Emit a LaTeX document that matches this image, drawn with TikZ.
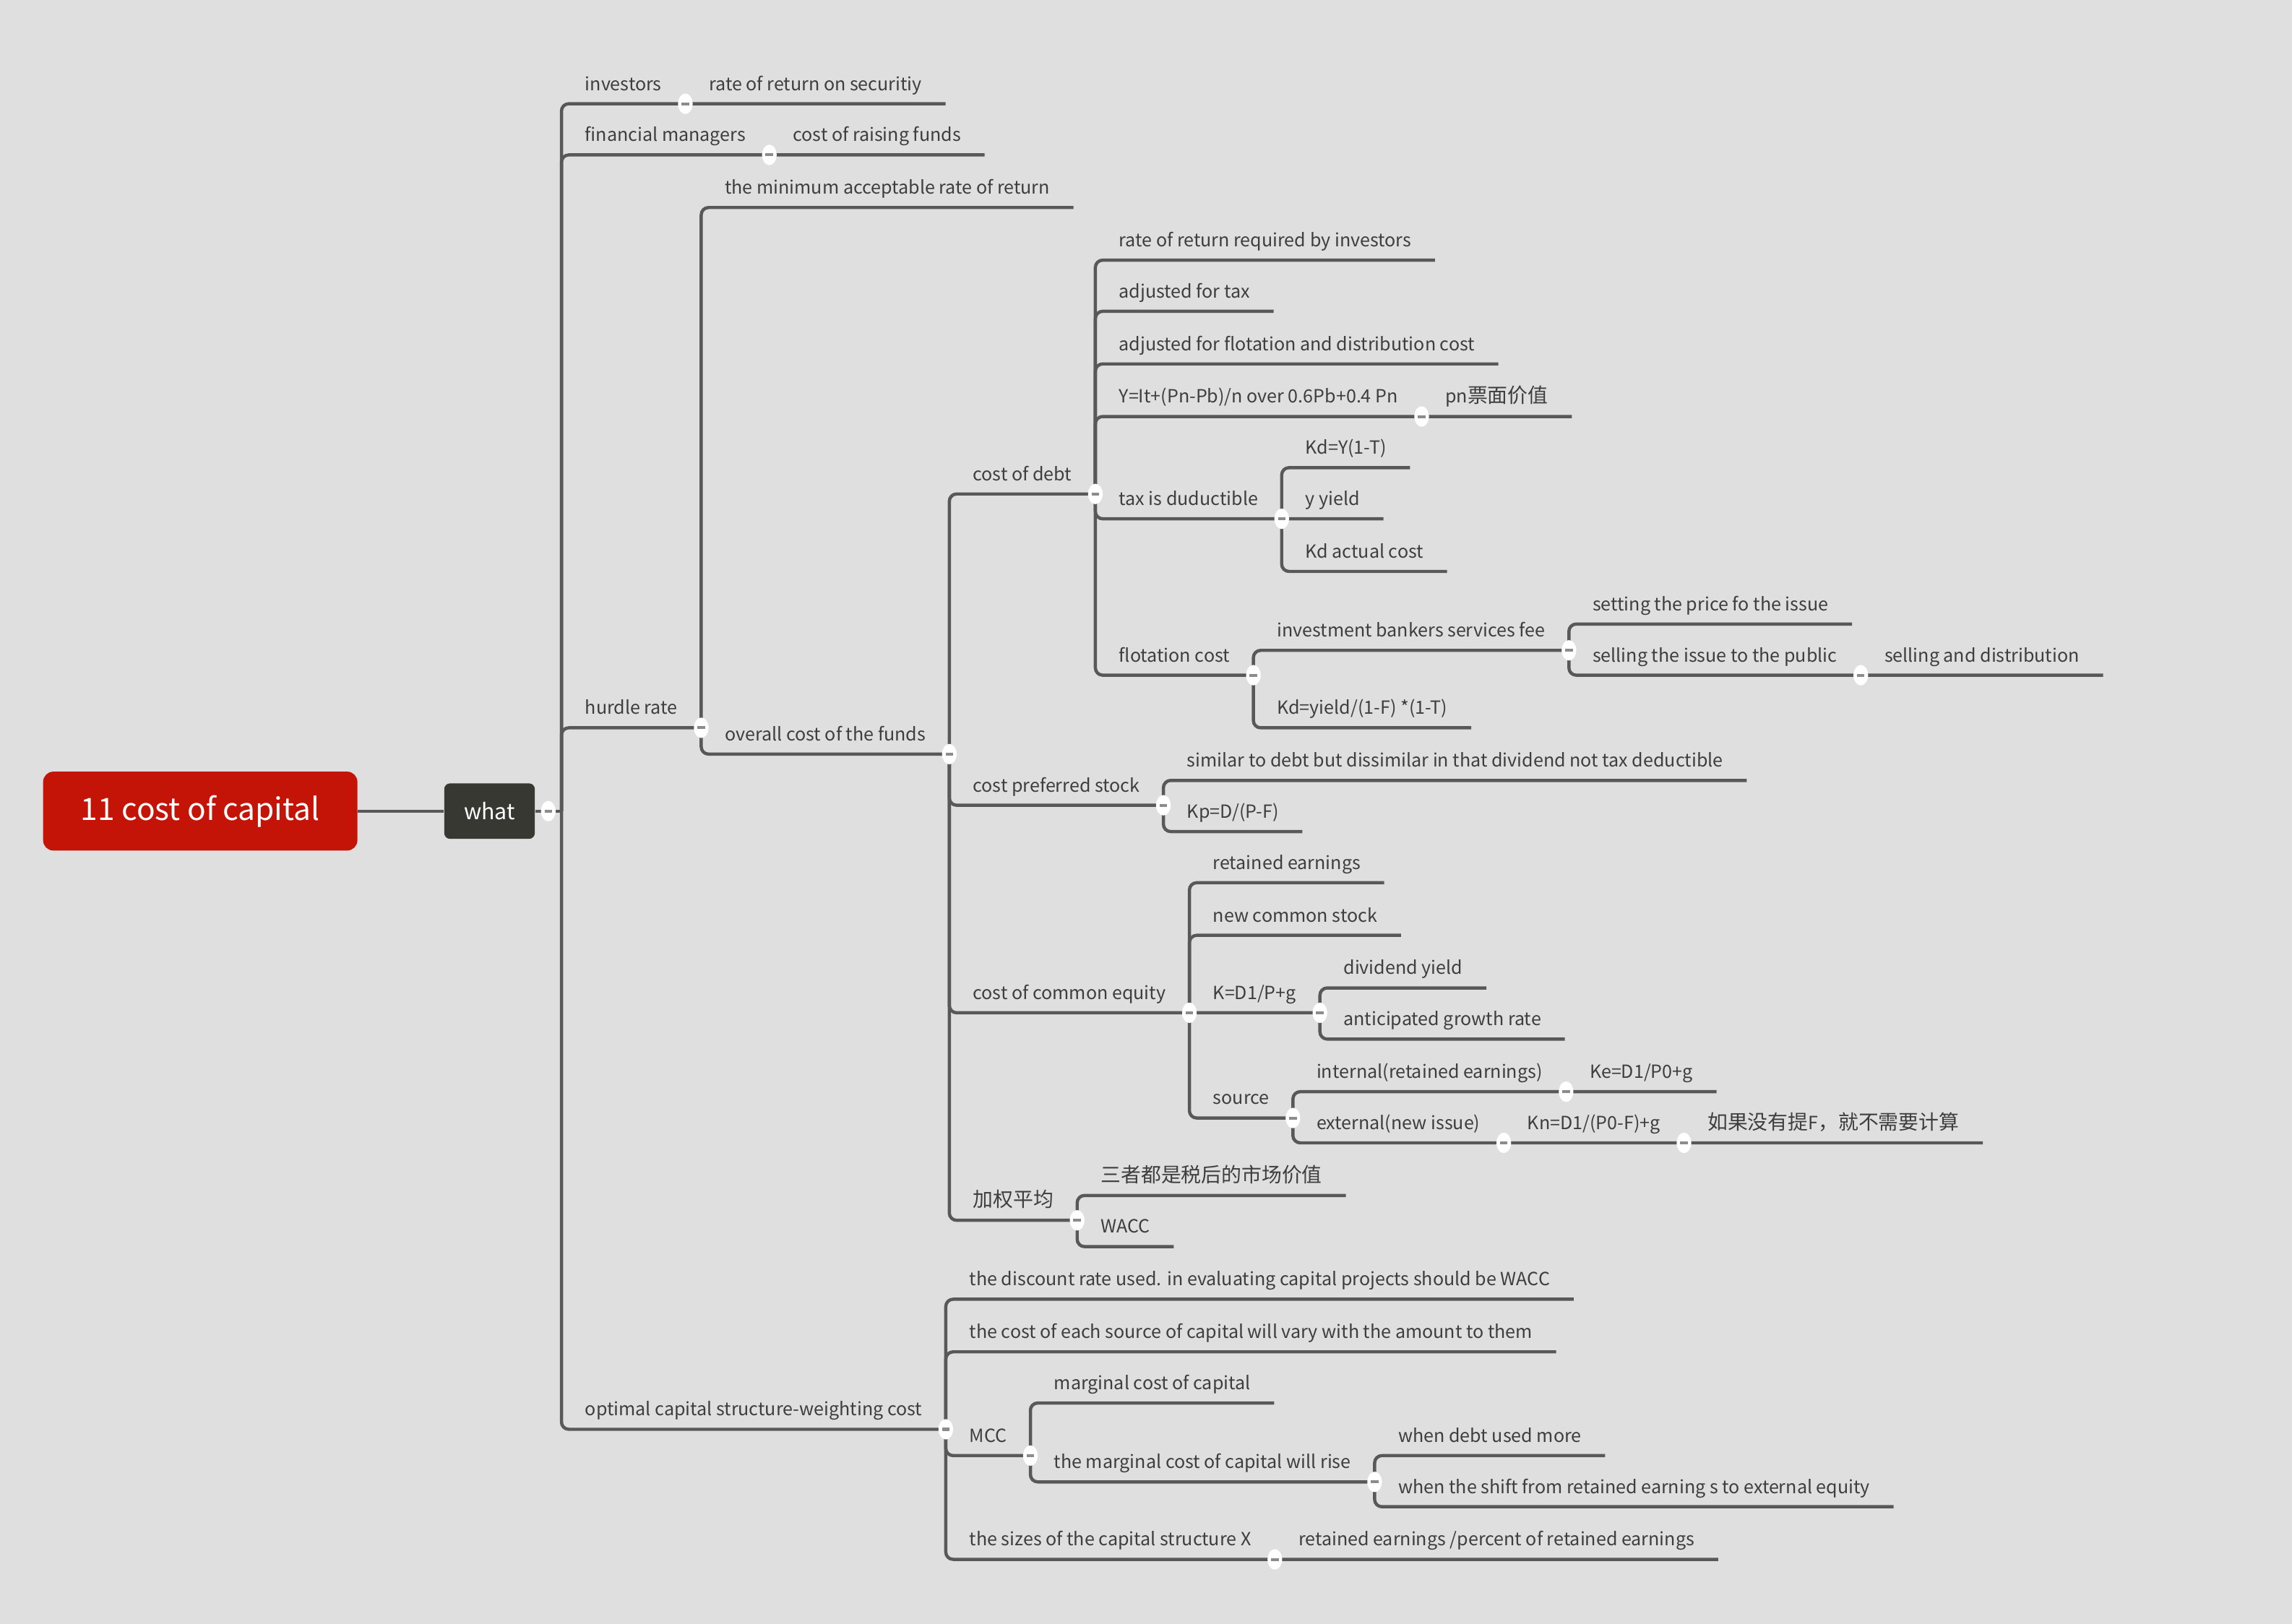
\documentclass[tikz,border=0pt]{standalone}
\usepackage{fontspec}
\setmainfont{Noto Sans CJK SC}
\newfontfamily\cjk{Noto Sans CJK SC}[Scale=1.11]
\usetikzlibrary{positioning,shapes.geometric}

\definecolor{bggray}{RGB}{223,223,223}
\definecolor{linegray}{RGB}{88,88,88}
\definecolor{textgray}{RGB}{62,62,62}
\definecolor{foldgray}{RGB}{140,140,140}
\definecolor{rootred}{RGB}{196,20,8}
\definecolor{hubdark}{RGB}{56,56,50}

\begin{document}
\begin{tikzpicture}[x=1pt, y=-1pt,
    branch/.style={draw=linegray, line width=2.2pt, rounded corners=5pt},
    topic/.style={anchor=south west, inner xsep=16pt, inner ysep=9pt, text depth=0pt,
        text=textgray, font=\fontsize{12.4}{15}\selectfont},
    rootbox/.style={fill=rootred, rounded corners=7pt, text=white, minimum width=215pt,
        minimum height=54pt, font=\fontsize{21}{24}\selectfont},
    hubbox/.style={fill=hubdark, rounded corners=4pt, text=white, minimum width=62pt,
        minimum height=38pt, font=\fontsize{15}{18}\selectfont},
    fold/.style={ellipse, fill=white, inner sep=0pt, minimum width=10pt, minimum height=14pt,
        path picture={\draw[foldgray, line width=2pt]
            ([xshift=-2.6pt]path picture bounding box.center) --
            ([xshift=2.6pt]path picture bounding box.center);}}]

    % Background
    \fill[bggray] (0,0) rectangle (1568,1111);

    % Central topic
    \node[rootbox] (root) at (137,555) {11 cost of capital};
    \node[hubbox, right=59pt of root] (what) {what};
    \coordinate (wj) at ([xshift=18pt]what.east);

    % what
    \node[topic] (inv) at (wj |- 0,71) {investors};
    \node[topic] (fin) at (wj |- 0,106) {financial managers};
    \node[topic] (hur) at (wj |- 0,498) {hurdle rate};
    \node[topic] (opt) at (wj |- 0,978) {optimal capital structure-weighting cost};

    \node[topic] (rors) at (inv.south east) {rate of return on securitiy};
    \node[topic] (crf) at (fin.south east) {cost of raising funds};

    % hurdle rate
    \node[topic] (minr) at (hur.south east |- 0,142) {the minimum acceptable rate of return};
    \node[topic] (ocf) at (hur.south east |- 0,516) {overall cost of the funds};

    \node[topic] (cod) at (ocf.south east |- 0,338) {cost of debt};
    \node[topic] (cps) at (ocf.south east |- 0,551) {cost preferred stock};
    \node[topic] (cce) at (ocf.south east |- 0,693) {cost of common equity};
    \node[topic] (jq) at (ocf.south east |- 0,835) {\cjk 加权平均};

    % cost of debt
    \node[topic] (rri) at (cod.south east |- 0,178) {rate of return required by investors};
    \node[topic] (aft) at (cod.south east |- 0,213) {adjusted for tax};
    \node[topic] (afd) at (cod.south east |- 0,249) {adjusted for flotation and distribution cost};
    \node[topic] (yit) at (cod.south east |- 0,285) {Y=It+(Pn-Pb)/n over 0.6Pb+0.4 Pn};
    \node[topic] (tid) at (cod.south east |- 0,355) {tax is duductible};
    \node[topic] (flc) at (cod.south east |- 0,462) {flotation cost};

    \node[topic] (pnv) at (yit.south east) {pn{\cjk 票面价值}};

    \node[topic] (kdy) at (tid.south east |- 0,320) {Kd=Y(1-T)};
    \node[topic] (yy) at (tid.south east |- 0,355) {y yield};
    \node[topic] (kda) at (tid.south east |- 0,391) {Kd actual cost};

    \node[topic] (ibs) at (flc.south east |- 0,445) {investment bankers services fee};
    \node[topic] (kdf) at (flc.south east |- 0,498) {Kd=yield/(1-F) *(1-T)};

    \node[topic] (spi) at (ibs.south east |- 0,427) {setting the price fo the issue};
    \node[topic] (sip) at (ibs.south east |- 0,462) {selling the issue to the public};
    \node[topic] (sad) at (sip.south east) {selling and distribution};

    % cost preferred stock
    \node[topic] (sim) at (cps.south east |- 0,534) {similar to debt but dissimilar in that dividend not tax deductible};
    \node[topic] (kp) at (cps.south east |- 0,569) {Kp=D/(P-F)};

    % cost of common equity
    \node[topic] (ret) at (cce.south east |- 0,604) {retained earnings};
    \node[topic] (ncs) at (cce.south east |- 0,640) {new common stock};
    \node[topic] (kdp) at (cce.south east |- 0,693) {K=D1/P+g};
    \node[topic] (src) at (cce.south east |- 0,765) {source};

    \node[topic] (dy) at (kdp.south east |- 0,676) {dividend yield};
    \node[topic] (agr) at (kdp.south east |- 0,711) {anticipated growth rate};

    \node[topic] (int) at (src.south east |- 0,747) {internal(retained earnings)};
    \node[topic] (ext) at (src.south east |- 0,782) {external(new issue)};
    \node[topic] (ke) at (int.south east) {Ke=D1/P0+g};
    \node[topic] (kn) at (ext.south east) {Kn=D1/(P0-F)+g};
    \node[topic] (rjs) at (kn.south east) {{\cjk 如果没有提}F{\cjk ，就不需要计算}};

    % weighting
    \node[topic] (szh) at (jq.south east |- 0,818) {\cjk 三者都是税后的市场价值};
    \node[topic] (wacc) at (jq.south east |- 0,853) {WACC};

    % optimal capital structure
    \node[topic] (dsc) at (opt.south east |- 0,889) {the discount rate used. in evaluating capital projects should be WACC};
    \node[topic] (ces) at (opt.south east |- 0,925) {the cost of each source of capital will vary with the amount to them};
    \node[topic] (mcc) at (opt.south east |- 0,996) {MCC};
    \node[topic] (siz) at (opt.south east |- 0,1067) {the sizes of the capital structure X};

    \node[topic] (mcoc) at (mcc.south east |- 0,960) {marginal cost of capital};
    \node[topic] (mcr) at (mcc.south east |- 0,1014) {the marginal cost of capital will rise};
    \node[topic] (dum) at (mcr.south east |- 0,996) {when debt used more};
    \node[topic] (shf) at (mcr.south east |- 0,1031) {when the shift from retained earning s to external equity};
    \node[topic] (rep) at (siz.south east) {retained earnings /percent of retained earnings};

    % Branches
    \draw[branch] (root) -- (what);
    \draw[branch] (what.east) -- (wj);
    \foreach \c in {inv,fin,hur,opt}
        \draw[branch] (wj) |- (\c.south east);
    \foreach \p/\c in {inv/rors, fin/crf, hur/minr, hur/ocf,
            ocf/cod, ocf/cps, ocf/cce, ocf/jq,
            cod/rri, cod/aft, cod/afd, cod/yit, cod/tid, cod/flc, yit/pnv,
            tid/kdy, tid/yy, tid/kda, flc/ibs, flc/kdf, ibs/spi, ibs/sip, sip/sad,
            cps/sim, cps/kp, cce/ret, cce/ncs, cce/kdp, cce/src, kdp/dy, kdp/agr,
            src/int, src/ext, int/ke, ext/kn, kn/rjs, jq/szh, jq/wacc,
            opt/dsc, opt/ces, opt/mcc, opt/siz, mcc/mcoc, mcc/mcr,
            mcr/dum, mcr/shf, siz/rep}
        \draw[branch] (\p.south east) |- (\c.south east);

    % Collapse buttons
    \node[fold] (fwhat) at ([xshift=9pt]what.east) {};
    \foreach \p in {inv,fin,hur,ocf,cod,yit,tid,flc,ibs,sip,cps,cce,kdp,src,
            int,ext,kn,jq,opt,mcc,mcr,siz}
        \node[fold] (f\p) at (\p.south east) {};
\end{tikzpicture}
\end{document}
